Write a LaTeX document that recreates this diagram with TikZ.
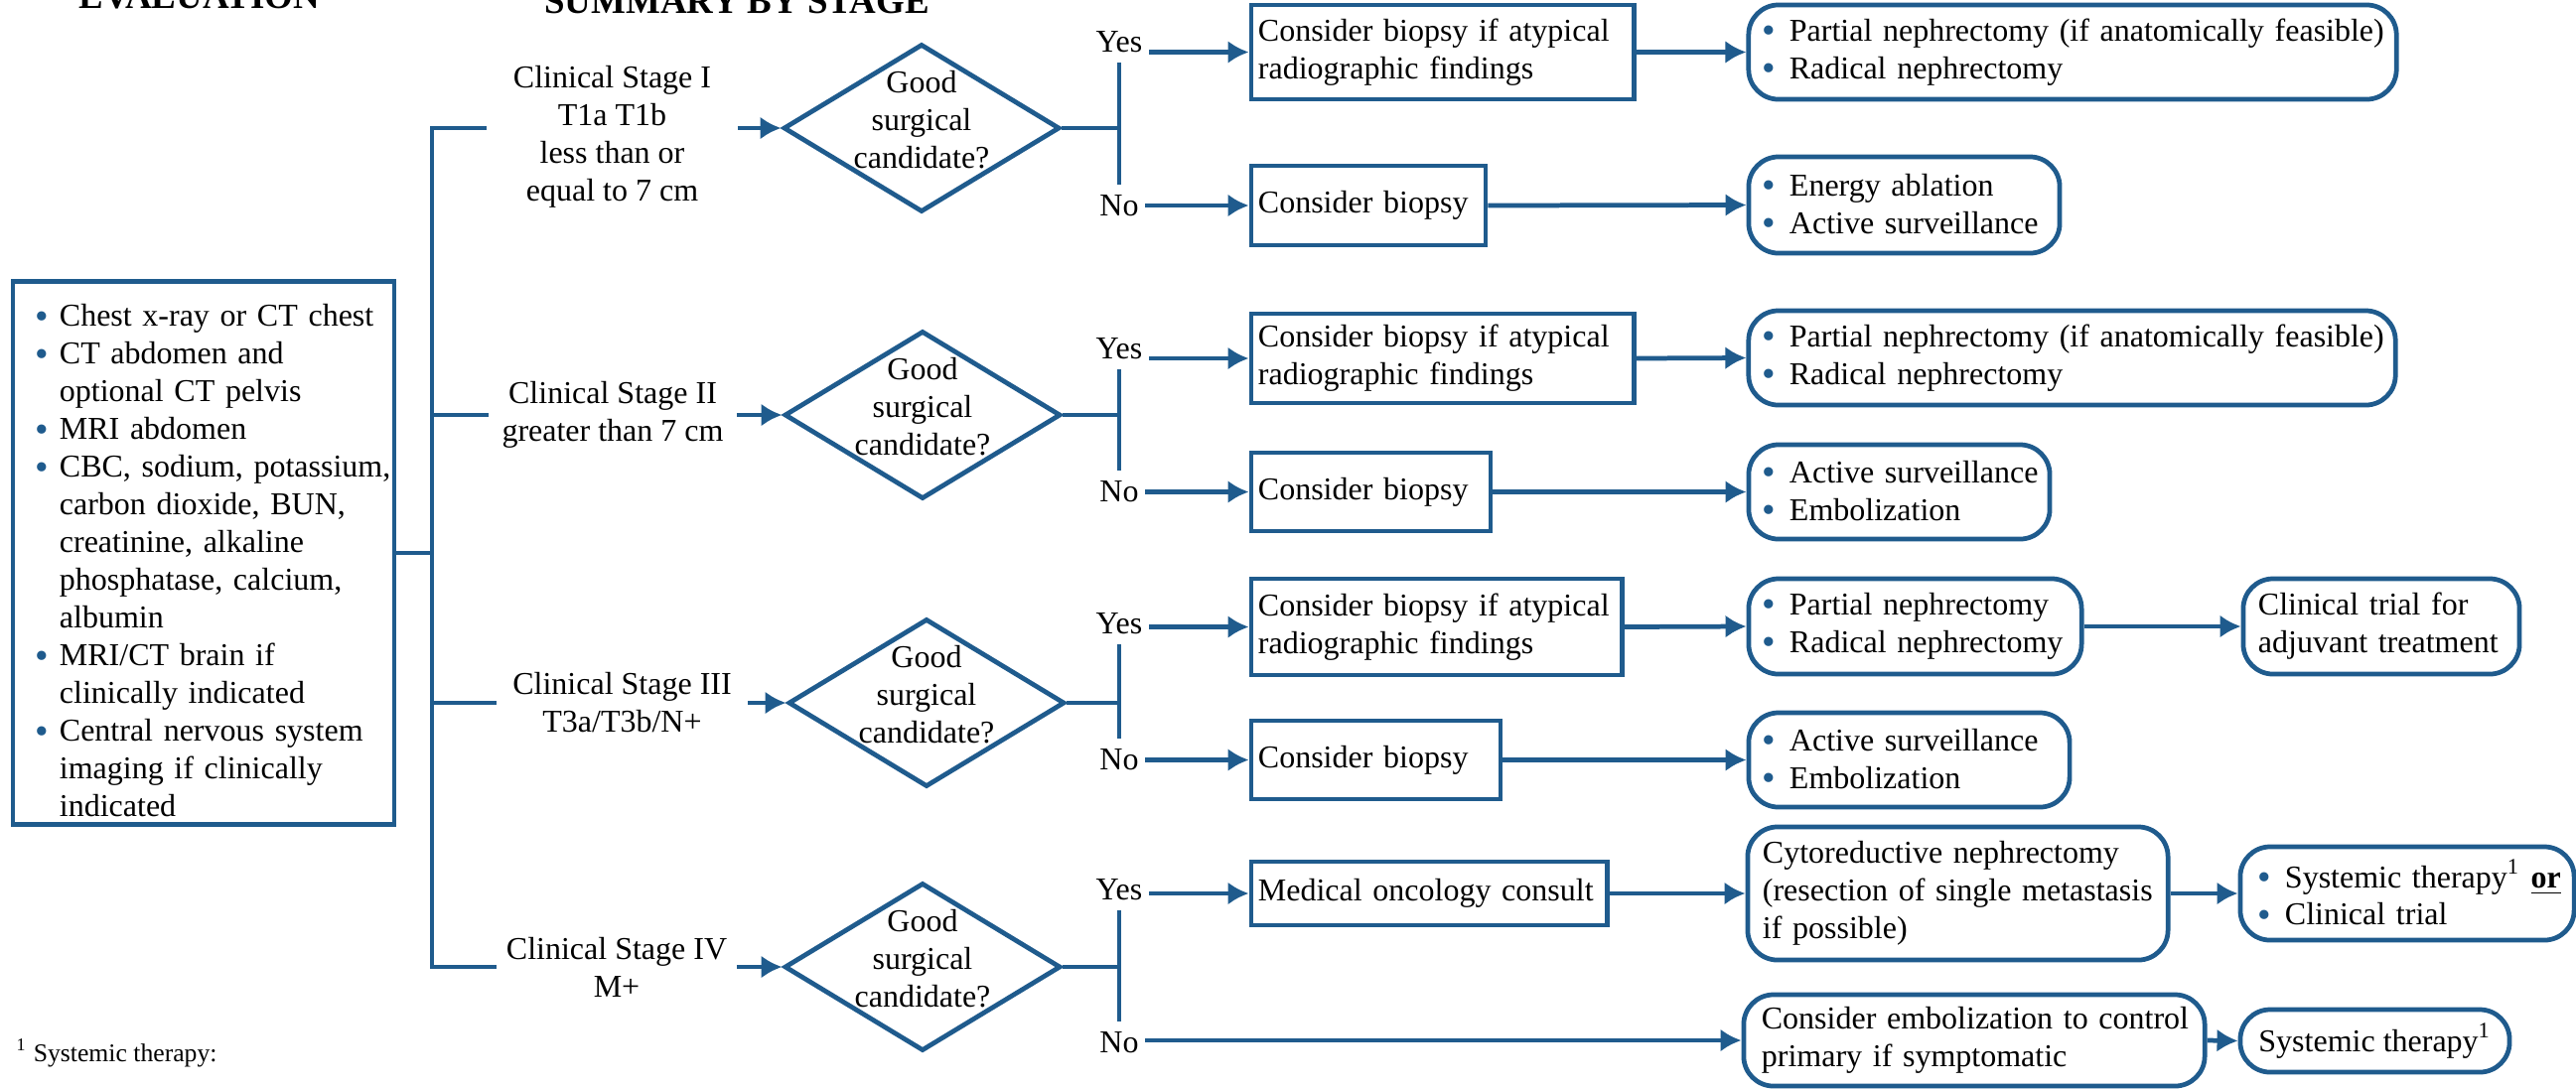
\documentclass[tikz,border=0pt]{standalone}
\usepackage{fontspec}
\setmainfont{Liberation Serif}
\usetikzlibrary{shapes.geometric,arrows.meta}
\definecolor{myblue}{RGB}{31,91,141}
\newcommand\bodyfont{\fontsize{9.1pt}{10.8pt}\selectfont}
\newcommand\bdot{\textcolor{myblue}{\raisebox{-0.65pt}{\fontsize{11pt}{11pt}\selectfont\textbullet}}}
\newcommand\bul{\makebox[0.31cm][l]{\hspace{0.04cm}\bdot}}
\newcommand\evi[1]{\par\noindent\hangindent=0.32cm\hangafter=1\makebox[0.32cm][l]{\hspace{0.08cm}\bdot}#1\par}
\newcommand\ml[1]{\mbox{#1}}
\tikzset{
  ln/.style={draw=myblue, line width=1.35pt},
  arr/.style={ln, -{Latex[length=0.21cm,width=0.23cm]}},
  rbox/.style={draw=myblue, line width=1.35pt, inner ysep=0pt, inner xsep=0.07cm, align=left, font=\bodyfont},
  rnd/.style={rbox, rounded corners=0.3cm, inner xsep=0.10cm},
  dia/.style={diamond, draw=myblue, line width=1.35pt, inner sep=0pt, minimum width=2.78cm, minimum height=1.69cm},
  dtext/.style={align=center, font=\bodyfont, inner sep=0pt, yshift=0.08cm},
  stg/.style={align=center, font=\bodyfont, inner sep=0pt},
  yn/.style={font=\bodyfont, inner xsep=0.06cm, inner ysep=0.1cm},
  hdr/.style={anchor=base, font=\bfseries\fontsize{10.5pt}{12pt}\selectfont, inner sep=0pt}
}
\begin{document}
\begin{tikzpicture}[x=0.01cm, y=-0.01cm]
\useasboundingbox (0,0) rectangle (2594,1096);

% headers (cut off at top, as in the reference)
\node[hdr] (h1) at (201,8) {EVALUATION};
\node[hdr] (h2) at (742,13) {SUMMARY BY STAGE};

% evaluation box
\node[rbox, minimum width=3.84cm, minimum height=5.46cm, text width=3.54cm, inner xsep=0.15cm] (ev) at (205,557)
 {\evi{\ml{Chest x-ray or CT chest}}%
  \evi{\ml{CT abdomen and}\newline \ml{optional CT pelvis}}%
  \evi{\ml{MRI abdomen}}%
  \evi{\ml{CBC, sodium, potassium,}\newline \ml{carbon dioxide, BUN,}\newline \ml{creatinine, alkaline}\newline \ml{phosphatase, calcium,}\newline \ml{albumin}}%
  \evi{\ml{MRI/CT brain if}\newline \ml{clinically indicated}}%
  \evi{\ml{Central nervous system}\newline \ml{imaging if clinically}\newline \ml{indicated}}\vspace{0.08cm}};

% stages
\node[stg, minimum width=2.51cm] (s1) at (616.5,138) {Clinical Stage I\\T1a T1b\\less than or\\equal to 7 cm};
\node[stg, minimum width=2.48cm] (s2) at (617,418) {Clinical Stage II\\greater than 7 cm};
\node[stg, minimum width=2.51cm] (s3) at (626.5,708) {Clinical Stage III\\T3a/T3b/N+};
\node[stg, minimum width=2.40cm] (s4) at (621,974) {Clinical Stage IV\\M+};

% diamonds
\node[dia] (d1) at (928,129) {};
\node[dia] (d2) at (929,418) {};
\node[dia] (d3) at (933,708) {};
\node[dia] (d4) at (929,974) {};
\node[dtext] (t1) at (d1.center) {Good\\surgical\\candidate?};
\node[dtext] (t2) at (d2.center) {Good\\surgical\\candidate?};
\node[dtext] (t3) at (d3.center) {Good\\surgical\\candidate?};
\node[dtext] (t4) at (d4.center) {Good\\surgical\\candidate?};

% yes / no labels
\node[yn] (y1) at (1127,42) {Yes};
\node[yn] (n1) at (1127,207) {No};
\node[yn] (y2) at (1127,351) {Yes};
\node[yn] (n2) at (1127,495) {No};
\node[yn] (y3) at (1127,628) {Yes};
\node[yn] (n3) at (1127,765) {No};
\node[yn] (y4) at (1127,896) {Yes};
\node[yn] (n4) at (1127,1050) {No};

% row I
\node[rbox, minimum width=3.85cm, minimum height=0.95cm, text width=3.71cm] (b1a) at (1452.5,52.5) {\ml{Consider biopsy if atypical}\\\ml{radiographic findings}};
\node[rnd, minimum width=6.52cm, minimum height=0.95cm, text width=6.32cm] (r1a) at (2087,52.5) {\ml{\bul Partial nephrectomy (if anatomically feasible)}\\\ml{\bul Radical nephrectomy}};
\node[rbox, minimum width=2.36cm, minimum height=0.80cm, text width=2.22cm] (b1b) at (1378,207) {\ml{Consider biopsy}};
\node[rnd, minimum width=3.13cm, minimum height=0.97cm, text width=2.93cm] (r1b) at (1917.5,206.5) {\ml{\bul Energy ablation}\\\ml{\bul Active surveillance}};

% row II
\node[rbox, minimum width=3.85cm, minimum height=0.90cm, text width=3.71cm] (b2a) at (1452.5,361) {\ml{Consider biopsy if atypical}\\\ml{radiographic findings}};
\node[rnd, minimum width=6.51cm, minimum height=0.95cm, text width=6.31cm] (r2a) at (2086.5,360.5) {\ml{\bul Partial nephrectomy (if anatomically feasible)}\\\ml{\bul Radical nephrectomy}};
\node[rbox, minimum width=2.41cm, minimum height=0.79cm, text width=2.27cm] (b2b) at (1380.5,495.5) {\ml{Consider biopsy}};
\node[rnd, minimum width=3.03cm, minimum height=0.95cm, text width=2.83cm] (r2b) at (1912.5,495.5) {\ml{\bul Active surveillance}\\\ml{\bul Embolization}};

% row III
\node[rbox, minimum width=3.73cm, minimum height=0.97cm, text width=3.59cm] (b3a) at (1446.5,631.5) {\ml{Consider biopsy if atypical}\\\ml{radiographic findings}};
\node[rnd, minimum width=3.35cm, minimum height=0.96cm, text width=3.15cm] (r3a) at (1928.5,631) {\ml{\bul Partial nephrectomy}\\\ml{\bul Radical nephrectomy}};
\node[rnd, minimum width=2.78cm, minimum height=0.96cm, text width=2.48cm, inner xsep=0.15cm] (r3c) at (2398,631) {\ml{Clinical trial for}\\\ml{adjuvant treatment}};
\node[rbox, minimum width=2.51cm, minimum height=0.79cm, text width=2.37cm] (b3b) at (1385.5,765.5) {\ml{Consider biopsy}};
\node[rnd, minimum width=3.23cm, minimum height=0.95cm, text width=3.03cm] (r3b) at (1922.5,765.5) {\ml{\bul Active surveillance}\\\ml{\bul Embolization}};

% row IV
\node[rbox, minimum width=3.58cm, minimum height=0.64cm, text width=3.44cm] (b4a) at (1439,900) {\ml{Medical oncology consult}};
\node[rnd, minimum width=4.23cm, minimum height=1.34cm, text width=3.93cm, inner xsep=0.15cm] (r4a) at (1971.5,900) {\ml{Cytoreductive nephrectomy}\\\ml{(resection of single metastasis}\\\ml{if possible)}};
\node[rnd, minimum width=3.36cm, minimum height=0.94cm, text width=3.08cm, inner xsep=0.14cm] (r4c) at (2424,900) {\ml{\bul Systemic therapy\textsuperscript{1} \underline{\textbf{or}}}\\\ml{\bul Clinical trial}};
\node[rnd, minimum width=4.56cm, minimum height=0.92cm, text width=4.28cm, inner xsep=0.18cm] (r4b) at (1988,1048) {\ml{Consider embolization to control}\\\ml{primary if symptomatic}};
\node[rnd, minimum width=2.71cm, minimum height=0.63cm, align=center] (r4d) at (2391.5,1048.5) {\ml{Systemic therapy\textsuperscript{1}}};

% footnote
\node[anchor=base west, font=\fontsize{7.3pt}{8.8pt}\selectfont, inner sep=0pt] (fn) at (16,1069) {\textsuperscript{1} Systemic therapy:};

% bus
\coordinate (bx) at (435,0);
\draw[ln] (s1.west |- d1) -- (bx |- d1) -- (bx |- d4) -- (s4.west |- d4);
\draw[ln] (bx |- d2) -- (s2.west |- d2);
\draw[ln] (bx |- d3) -- (s3.west |- d3);
\draw[ln] (ev.east) -- (bx |- ev.east);

% stage -> diamond
\draw[arr] (s1.east |- d1) -- (d1.west);
\draw[arr] (s2.east |- d2) -- (d2.west);
\draw[arr] (s3.east |- d3) -- (d3.west);
\draw[arr] (s4.east |- d4) -- (d4.west);

% diamond -> junctions
\foreach \i in {1,2,3,4}{
  \draw[ln] (d\i.east) -- (d\i.east -| y\i.south);
  \draw[ln] (y\i.south) -- (n\i.north);
}

% yes/no arrows
\draw[arr] (y1.east |- b1a.west) -- (b1a.west);
\draw[arr] (n1.east |- b1b.west) -- (b1b.west);
\draw[arr] (y2.east |- b2a.west) -- (b2a.west);
\draw[arr] (n2.east |- b2b.west) -- (b2b.west);
\draw[arr] (y3.east |- b3a.west) -- (b3a.west);
\draw[arr] (n3.east |- b3b.west) -- (b3b.west);
\draw[arr] (y4.east |- b4a.west) -- (b4a.west);
\draw[arr] (n4.east |- r4b.west) -- (r4b.west);

% box -> box arrows
\draw[arr] (b1a.east) -- (r1a.west);
\draw[arr] (b1b.east) -- (r1b.west);
\draw[arr] (b2a.east) -- (r2a.west);
\draw[arr] (b2b.east) -- (r2b.west);
\draw[arr] (b3a.east) -- (r3a.west);
\draw[arr] (r3a.east) -- (r3c.west);
\draw[arr] (b3b.east) -- (r3b.west);
\draw[arr] (b4a.east) -- (r4a.west);
\draw[arr] (r4a.east) -- (r4c.west);
\draw[arr] (r4b.east) -- (r4d.west);
\end{tikzpicture}
\end{document}
